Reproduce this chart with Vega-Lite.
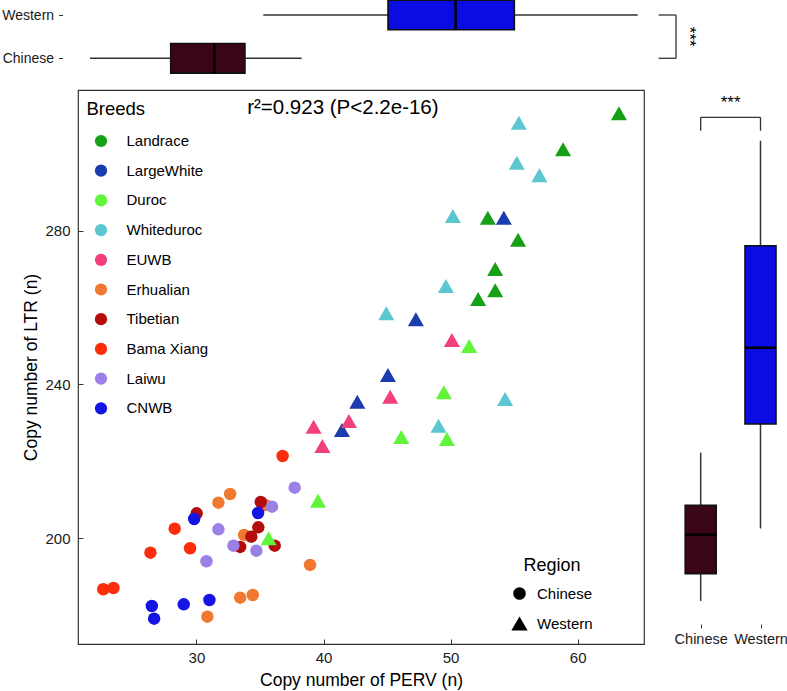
{
  "$schema": "https://vega.github.io/schema/vega-lite/v6.json",
  "width": 566,
  "height": 554,
  "autosize": {"type": "none"},
  "padding": {"left": 78, "top": 90, "right": 143, "bottom": 47},
  "background": "white",
  "config": {
    "font": "Liberation Sans",
    "view": {"stroke": "#333333", "strokeWidth": 1.2},
    "axis": {"grid": false, "labelFont": "Liberation Sans", "titleFont": "Liberation Sans", "labelColor": "#1a1a1a", "titleColor": "#000000", "tickColor": "#333333", "titleFontWeight": "normal"},
    "legend": {"labelFont": "Liberation Sans", "titleFont": "Liberation Sans", "titleFontWeight": "normal", "labelColor": "#000000", "titleColor": "#000000", "padding": 0}
  },
  "datasets": {
    "pts": [
      {"Breed": "Erhualian", "Region": "Chinese", "PERV": 32.65, "LTR": 211.52},
      {"Breed": "Erhualian", "Region": "Chinese", "PERV": 31.73, "LTR": 209.26},
      {"Breed": "Erhualian", "Region": "Chinese", "PERV": 35.42, "LTR": 208.66},
      {"Breed": "Erhualian", "Region": "Chinese", "PERV": 33.75, "LTR": 200.86},
      {"Breed": "Erhualian", "Region": "Chinese", "PERV": 38.94, "LTR": 193.06},
      {"Breed": "Erhualian", "Region": "Chinese", "PERV": 33.44, "LTR": 184.55},
      {"Breed": "Erhualian", "Region": "Chinese", "PERV": 34.43, "LTR": 185.25},
      {"Breed": "Erhualian", "Region": "Chinese", "PERV": 30.86, "LTR": 179.61},
      {"Breed": "Tibetian", "Region": "Chinese", "PERV": 35.06, "LTR": 209.44},
      {"Breed": "Tibetian", "Region": "Chinese", "PERV": 30.02, "LTR": 206.5},
      {"Breed": "Tibetian", "Region": "Chinese", "PERV": 34.87, "LTR": 202.86},
      {"Breed": "Tibetian", "Region": "Chinese", "PERV": 34.32, "LTR": 200.42},
      {"Breed": "Tibetian", "Region": "Chinese", "PERV": 33.44, "LTR": 197.74},
      {"Breed": "Tibetian", "Region": "Chinese", "PERV": 36.16, "LTR": 198.08},
      {"Breed": "Bama Xiang", "Region": "Chinese", "PERV": 36.78, "LTR": 221.4},
      {"Breed": "Bama Xiang", "Region": "Chinese", "PERV": 28.29, "LTR": 202.5},
      {"Breed": "Bama Xiang", "Region": "Chinese", "PERV": 29.5, "LTR": 197.4},
      {"Breed": "Bama Xiang", "Region": "Chinese", "PERV": 26.38, "LTR": 196.26},
      {"Breed": "Bama Xiang", "Region": "Chinese", "PERV": 22.67, "LTR": 186.74},
      {"Breed": "Bama Xiang", "Region": "Chinese", "PERV": 23.47, "LTR": 187.07},
      {"Breed": "Laiwu", "Region": "Chinese", "PERV": 37.73, "LTR": 213.16},
      {"Breed": "Laiwu", "Region": "Chinese", "PERV": 35.95, "LTR": 208.22},
      {"Breed": "Laiwu", "Region": "Chinese", "PERV": 31.73, "LTR": 202.34},
      {"Breed": "Laiwu", "Region": "Chinese", "PERV": 32.91, "LTR": 198.08},
      {"Breed": "Laiwu", "Region": "Chinese", "PERV": 34.72, "LTR": 196.78},
      {"Breed": "Laiwu", "Region": "Chinese", "PERV": 30.79, "LTR": 194.02},
      {"Breed": "CNWB", "Region": "Chinese", "PERV": 34.85, "LTR": 206.58},
      {"Breed": "CNWB", "Region": "Chinese", "PERV": 29.82, "LTR": 205.02},
      {"Breed": "CNWB", "Region": "Chinese", "PERV": 26.49, "LTR": 182.39},
      {"Breed": "CNWB", "Region": "Chinese", "PERV": 29.0, "LTR": 182.83},
      {"Breed": "CNWB", "Region": "Chinese", "PERV": 31.02, "LTR": 183.95},
      {"Breed": "CNWB", "Region": "Chinese", "PERV": 26.67, "LTR": 179.09},
      {"Breed": "Landrace", "Region": "Western", "PERV": 63.25, "LTR": 310.53},
      {"Breed": "Landrace", "Region": "Western", "PERV": 58.85, "LTR": 301.17},
      {"Breed": "Landrace", "Region": "Western", "PERV": 52.93, "LTR": 283.38},
      {"Breed": "Landrace", "Region": "Western", "PERV": 55.31, "LTR": 277.66},
      {"Breed": "Landrace", "Region": "Western", "PERV": 53.51, "LTR": 270.04},
      {"Breed": "Landrace", "Region": "Western", "PERV": 53.51, "LTR": 264.5},
      {"Breed": "Landrace", "Region": "Western", "PERV": 52.17, "LTR": 262.24},
      {"Breed": "Whiteduroc", "Region": "Western", "PERV": 55.37, "LTR": 308.09},
      {"Breed": "Whiteduroc", "Region": "Western", "PERV": 55.21, "LTR": 297.69},
      {"Breed": "Whiteduroc", "Region": "Western", "PERV": 56.99, "LTR": 294.41},
      {"Breed": "Whiteduroc", "Region": "Western", "PERV": 50.18, "LTR": 283.82},
      {"Breed": "Whiteduroc", "Region": "Western", "PERV": 49.63, "LTR": 265.62},
      {"Breed": "Whiteduroc", "Region": "Western", "PERV": 44.94, "LTR": 258.52},
      {"Breed": "Whiteduroc", "Region": "Western", "PERV": 54.29, "LTR": 236.23},
      {"Breed": "Whiteduroc", "Region": "Western", "PERV": 49.05, "LTR": 229.29},
      {"Breed": "LargeWhite", "Region": "Western", "PERV": 54.19, "LTR": 283.38},
      {"Breed": "LargeWhite", "Region": "Western", "PERV": 47.27, "LTR": 256.96},
      {"Breed": "LargeWhite", "Region": "Western", "PERV": 45.07, "LTR": 242.47},
      {"Breed": "LargeWhite", "Region": "Western", "PERV": 42.66, "LTR": 235.53},
      {"Breed": "LargeWhite", "Region": "Western", "PERV": 41.45, "LTR": 228.17},
      {"Breed": "EUWB", "Region": "Western", "PERV": 50.1, "LTR": 251.57},
      {"Breed": "EUWB", "Region": "Western", "PERV": 45.25, "LTR": 236.83},
      {"Breed": "EUWB", "Region": "Western", "PERV": 42.0, "LTR": 230.51},
      {"Breed": "EUWB", "Region": "Western", "PERV": 39.22, "LTR": 229.02},
      {"Breed": "EUWB", "Region": "Western", "PERV": 39.91, "LTR": 224.0},
      {"Breed": "Duroc", "Region": "Western", "PERV": 51.46, "LTR": 250.01},
      {"Breed": "Duroc", "Region": "Western", "PERV": 49.47, "LTR": 237.97},
      {"Breed": "Duroc", "Region": "Western", "PERV": 46.12, "LTR": 226.35},
      {"Breed": "Duroc", "Region": "Western", "PERV": 49.71, "LTR": 225.8},
      {"Breed": "Duroc", "Region": "Western", "PERV": 39.57, "LTR": 209.78},
      {"Breed": "Duroc", "Region": "Western", "PERV": 35.68, "LTR": 200.0}
    ],
    "perv": [
      {"Region": "Chinese", "lower": 22.67, "q1": 28.65, "median": 31.88, "q3": 34.15, "upper": 38.35},
      {"Region": "Western", "lower": 35.51, "q1": 44.75, "median": 49.76, "q3": 54.11, "upper": 63.25}
    ],
    "ltr": [
      {"Region": "Chinese", "lower": 179.1, "q1": 186.9, "median": 198.03, "q3": 206.42, "upper": 221.43},
      {"Region": "Western", "lower": 199.74, "q1": 229.63, "median": 251.41, "q3": 280.53, "upper": 310.5}
    ]
  },
  "layer": [
    {
      "layer": [
        {
          "data": {"name": "pts"},
          "mark": {"type": "point", "filled": true, "opacity": 1, "strokeWidth": 0, "size": 155},
          "encoding": {
            "x": {"field": "PERV", "type": "quantitative", "scale": {"domain": [20.68, 65.22], "zero": false, "nice": false},
              "axis": {"orient": "bottom", "values": [30, 40, 50, 60], "domain": false, "tickSize": -5, "labelFontSize": 15, "labelPadding": 11, "title": "Copy number of PERV (n)", "titleFontSize": 17.5, "titlePadding": 6}},
            "y": {"field": "LTR", "type": "quantitative", "scale": {"domain": [172.5, 316.6], "zero": false, "nice": false},
              "axis": {"orient": "left", "values": [200, 240, 280], "domain": false, "tickSize": -5, "labelFontSize": 15, "labelPadding": 13, "title": "Copy number of LTR (n)", "titleFontSize": 17.5, "titlePadding": 4}},
            "color": {"field": "Breed", "type": "nominal",
              "scale": {"domain": ["Landrace", "LargeWhite", "Duroc", "Whiteduroc", "EUWB", "Erhualian", "Tibetian", "Bama Xiang", "Laiwu", "CNWB"],
                "range": ["#15a017", "#1a3cae", "#60f53b", "#5cc7d0", "#f2407b", "#f07830", "#b20c0c", "#fb2d0a", "#9b80e6", "#1414e4"]},
              "legend": {"orient": "none", "legendX": 8.5, "legendY": 10, "title": "Breeds", "titleFontSize": 18.5, "titlePadding": 15, "labelFontSize": 15, "symbolType": "circle", "symbolSize": 150, "symbolStrokeWidth": 0, "symbolOffset": 7, "labelOffset": 18, "rowPadding": 13.7}},
            "shape": {"field": "Region", "type": "nominal",
              "scale": {"domain": ["Chinese", "Western"], "range": ["circle", "M0,-1.12L1.29,1.12L-1.29,1.12Z"]},
              "legend": {"orient": "none", "legendX": 434, "legendY": 467, "title": "Region", "titleFontSize": 18, "titlePadding": 11, "titleAnchor": "middle", "labelFontSize": 15, "symbolSize": 160, "symbolFillColor": "#000000", "symbolStrokeColor": "#000000", "symbolStrokeWidth": 0, "labelOffset": 10, "rowPadding": 14}}
          }
        },
        {
          "data": {"values": [{}]},
          "mark": {"type": "text", "align": "left", "baseline": "middle", "fontSize": 20.5, "color": "#000000"},
          "encoding": {
            "x": {"datum": 33.99},
            "y": {"datum": 311.8},
            "text": {"value": "r²=0.923 (P<2.2e-16)"}
          }
        }
      ]
    },
    {
      "data": {"name": "perv"},
      "layer": [
        {
          "mark": {"type": "rule", "color": "#333333", "strokeWidth": 1.5},
          "encoding": {
            "x": {"field": "lower", "type": "quantitative", "scale": {"domain": [20.64, 65.28], "range": [-15.4, 587.1], "zero": false, "nice": false}, "axis": null},
            "x2": {"field": "upper"},
            "y": {"field": "Region", "type": "nominal", "scale": {"type": "point", "domain": ["Western", "Chinese"], "range": [-75, -31.7], "padding": 0},
              "axis": {"orient": "left", "offset": 15.4, "domain": false, "tickSize": 4, "labelFontSize": 14, "labelPadding": 5, "title": null}}
          }
        },
        {
          "mark": {"type": "bar", "size": 29.6, "stroke": "#111111", "strokeWidth": 1.6},
          "encoding": {
            "x": {"field": "q1", "type": "quantitative"},
            "x2": {"field": "q3"},
            "y": {"field": "Region", "type": "nominal"},
            "fill": {"field": "Region", "type": "nominal", "scale": {"domain": ["Chinese", "Western"], "range": ["#3a0515", "#0a0ce2"]}, "legend": null}
          }
        },
        {
          "mark": {"type": "tick", "size": 29.6, "thickness": 2.5, "color": "#000000", "opacity": 1},
          "encoding": {
            "x": {"field": "median", "type": "quantitative"},
            "y": {"field": "Region", "type": "nominal"}
          }
        },
        {
          "data": {"values": [{}]},
          "mark": {"type": "rule", "color": "#333333", "strokeWidth": 1.3},
          "encoding": {"x": {"datum": 66.09}, "y": {"datum": "Western"}, "y2": {"datum": "Chinese"}}
        },
        {
          "data": {"values": [{}]},
          "mark": {"type": "rule", "color": "#333333", "strokeWidth": 1.3},
          "encoding": {"x": {"datum": 64.8}, "x2": {"datum": 66.09}, "y": {"datum": "Western"}}
        },
        {
          "data": {"values": [{}]},
          "mark": {"type": "rule", "color": "#333333", "strokeWidth": 1.3},
          "encoding": {"x": {"datum": 64.8}, "x2": {"datum": 66.09}, "y": {"datum": "Chinese"}}
        },
        {
          "data": {"values": [{}]},
          "mark": {"type": "text", "angle": 90, "align": "center", "baseline": "middle", "fontSize": 17, "dx": 21.7, "color": "#000000"},
          "encoding": {"x": {"datum": 67.05}, "y": {"datum": "Western"}, "text": {"value": "***"}}
        }
      ]
    },
    {
      "data": {"name": "ltr"},
      "layer": [
        {
          "mark": {"type": "rule", "color": "#333333", "strokeWidth": 1.5},
          "encoding": {
            "x": {"field": "Region", "type": "nominal", "scale": {"type": "point", "domain": ["Chinese", "Western"], "range": [622.7, 682.5], "padding": 0},
              "axis": {"orient": "bottom", "offset": -20, "domain": false, "tickSize": 4, "labelFontSize": 14.5, "labelPadding": 4, "labelAngle": 0, "title": null}},
            "y": {"field": "lower", "type": "quantitative", "scale": {"domain": [172.5, 317.1], "range": [534, 27.7], "zero": false, "nice": false}, "axis": null},
            "y2": {"field": "upper"}
          }
        },
        {
          "mark": {"type": "bar", "size": 31, "stroke": "#111111", "strokeWidth": 1.6},
          "encoding": {
            "x": {"field": "Region", "type": "nominal"},
            "y": {"field": "q1", "type": "quantitative"},
            "y2": {"field": "q3"},
            "fill": {"field": "Region", "type": "nominal", "scale": {"domain": ["Chinese", "Western"], "range": ["#3a0515", "#0a0ce2"]}, "legend": null}
          }
        },
        {
          "mark": {"type": "tick", "size": 31, "thickness": 2.5, "color": "#000000", "opacity": 1},
          "encoding": {
            "x": {"field": "Region", "type": "nominal"},
            "y": {"field": "median", "type": "quantitative"}
          }
        },
        {
          "data": {"values": [{}]},
          "mark": {"type": "rule", "color": "#333333", "strokeWidth": 1.3},
          "encoding": {"x": {"datum": "Chinese"}, "x2": {"datum": "Western"}, "y": {"datum": 317.2}}
        },
        {
          "data": {"values": [{}]},
          "mark": {"type": "rule", "color": "#333333", "strokeWidth": 1.3},
          "encoding": {"x": {"datum": "Chinese"}, "y": {"datum": 317.2}, "y2": {"datum": 313.35}}
        },
        {
          "data": {"values": [{}]},
          "mark": {"type": "rule", "color": "#333333", "strokeWidth": 1.3},
          "encoding": {"x": {"datum": "Western"}, "y": {"datum": 317.2}, "y2": {"datum": 313.35}}
        },
        {
          "data": {"values": [{}]},
          "mark": {"type": "text", "align": "center", "baseline": "middle", "fontSize": 17, "dx": 29.9, "color": "#000000"},
          "encoding": {"x": {"datum": "Chinese"}, "y": {"datum": 321.4}, "text": {"value": "***"}}
        }
      ]
    }
  ],
  "resolve": {
    "scale": {"x": "independent", "y": "independent", "fill": "independent"},
    "axis": {"x": "independent", "y": "independent"}
  }
}
